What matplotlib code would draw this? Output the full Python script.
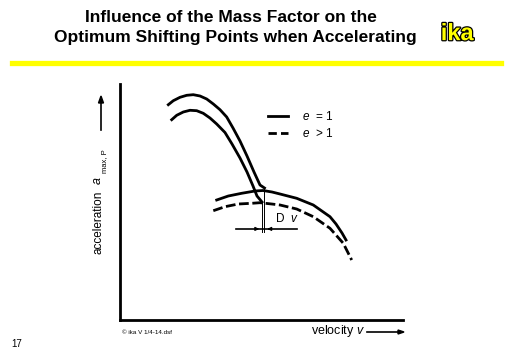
import numpy as np
import matplotlib.pyplot as plt
import matplotlib.patheffects as pe

plt.rcParams['font.family'] = ['Liberation Sans', 'DejaVu Sans']
plt.rcParams['mathtext.fontset'] = 'custom'
plt.rcParams['mathtext.rm'] = 'Liberation Sans'
plt.rcParams['mathtext.it'] = 'Liberation Sans:italic'

# gear 1, mass factor e = 1 (upper) and e > 1 (lower)
g1_e1_v = [17.07, 18.83, 21.20, 23.57, 25.90, 28.27, 30.64, 32.97, 35.34, 37.70,
           39.93, 42.40, 44.88, 47.35, 49.47, 51.06]
g1_e1_a = [91.23, 92.92, 94.36, 95.21, 95.47, 94.92, 93.64, 91.53, 89.11, 86.02,
           81.36, 75.85, 69.49, 62.71, 57.20, 55.93]
g1_e2_v = [18.27, 20.04, 22.37, 24.73, 27.10, 29.43, 31.80, 34.17, 37.10, 39.58,
           42.40, 44.88, 47.00, 48.41, 50.18]
g1_e2_a = [84.87, 86.74, 88.14, 88.86, 88.69, 87.58, 85.59, 83.05, 79.45, 74.58,
           68.64, 62.71, 56.78, 52.54, 50.00]

# gear 2
g2_e1_v = [34.17, 38.27, 43.00, 47.70, 50.53, 53.71, 56.54, 62.44, 68.30, 74.20,
           76.33, 78.45, 79.86]
g2_e1_a = [50.85, 52.54, 53.69, 54.66, 54.87, 54.24, 53.39, 51.57, 48.73, 43.77,
           40.68, 36.86, 33.90]
g2_e2_v = [32.97, 37.10, 41.80, 46.54, 49.47, 53.60, 56.54, 62.44, 68.30, 74.20,
           78.90, 81.87]
g2_e2_a = [46.31, 48.01, 49.15, 49.45, 49.70, 49.15, 48.73, 47.03, 43.77, 38.86,
           32.50, 25.42]

# shift points (velocity, acceleration) for e > 1 and e = 1
shift_v = [50.18, 51.06]
shift_a = [50.0, 55.93]
dv_level = 38.6
dv_span = [41.0, 62.5]

fig = plt.figure(figsize=(5.12, 3.54), dpi=100)

# header
fig.text(0.452, 0.951, "Influence of the Mass Factor on the", ha='center', va='center',
         fontsize=12.5, fontweight='bold')
fig.text(0.459, 0.893, "Optimum Shifting Points when Accelerating", ha='center', va='center',
         fontsize=12.5, fontweight='bold')
fig.text(0.893, 0.905, "ika", ha='center', va='center', fontsize=17, fontweight='bold',
         color='#ffff00', path_effects=[pe.withStroke(linewidth=1.8, foreground='black')])
fig.add_artist(plt.Line2D([12/512, 501/512], [1-63/354, 1-63/354], color='#ffff00', lw=3.8))

ax = fig.add_axes([120/512, 1-320/354, 283/512, 236/354])
ax.set_xlim(0, 100)
ax.set_ylim(0, 100)
ax.spines[['right', 'top']].set_visible(False)
for s in ['left', 'bottom']:
    ax.spines[s].set_linewidth(2)
ax.set_xticks([])
ax.set_yticks([])
ax.patch.set_alpha(0)

ax.plot(g1_e1_v, g1_e1_a, color='black', lw=2, solid_joinstyle='round')
ax.plot(g1_e2_v, g1_e2_a, color='black', lw=2, solid_joinstyle='round')
ax.plot(g2_e1_v, g2_e1_a, color='black', lw=2, solid_joinstyle='round')
ax.plot(g2_e2_v, g2_e2_a, color='black', lw=2, dashes=(3.5, 1.3))

# delta v markers
for v, a in zip(shift_v, shift_a):
    ax.plot([v, v], [a, dv_level - 1.3], color='black', lw=0.7)
ax.plot(dv_span, [dv_level, dv_level], color='black', lw=1.2)
ax.annotate("", xy=(shift_v[0], dv_level), xytext=(shift_v[0] - 3, dv_level),
            arrowprops=dict(arrowstyle='-|>', color='black', lw=1, mutation_scale=5))
ax.annotate("", xy=(shift_v[1], dv_level), xytext=(shift_v[1] + 3, dv_level),
            arrowprops=dict(arrowstyle='-|>', color='black', lw=1, mutation_scale=5))
ax.text(54.8, 41.5, "D  $v$", fontsize=8.5, ha='left', va='baseline')

# legend
ax.plot([52.3, 59.4], [86.4, 86.4], color='black', lw=2)
ax.plot([52.3, 59.4], [79.2, 79.2], color='black', lw=2, dashes=(3, 1.5))
ax.text(64.3, 86.4, "$e$  = 1", fontsize=8.5, va='center')
ax.text(64.3, 79.2, "$e$  > 1", fontsize=8.5, va='center')

# axis labels
fig.text(98/512, 1-222/354, "acceleration", rotation=90, ha='center', va='center', fontsize=8.5)
fig.text(98/512, 1-181/354, "$a$", rotation=90, ha='center', va='center', fontsize=9)
fig.text(105/512, 1-161/354, "max, P", rotation=90, ha='center', va='center', fontsize=5.5)
fig.add_artist(plt.Line2D([101/512, 101/512], [1-130/354, 1-100/354], color='black', lw=1.2))
fig.patches.append(plt.Polygon([[98.5/512, 1-103/354], [103.5/512, 1-103/354], [101/512, 1-96/354]],
                               closed=True, color='black', transform=fig.transFigure))

fig.text(338/512, 1-331/354, "velocity $v$", ha='center', va='center', fontsize=9)
fig.add_artist(plt.Line2D([367/512, 400/512], [1-332/354, 1-332/354], color='black', lw=1.2))
fig.patches.append(plt.Polygon([[398/512, 1-330/354], [398/512, 1-334/354], [404/512, 1-332/354]],
                               closed=True, color='black', transform=fig.transFigure))

fig.text(122/512, 1-332/354, "\u00a9 ika V 1/4-14.dsf", ha='left', va='center', fontsize=4.5)
fig.text(11/512, 1-344/354, "17", ha='left', va='center', fontsize=7)

fig.savefig("out.png", dpi=100)
